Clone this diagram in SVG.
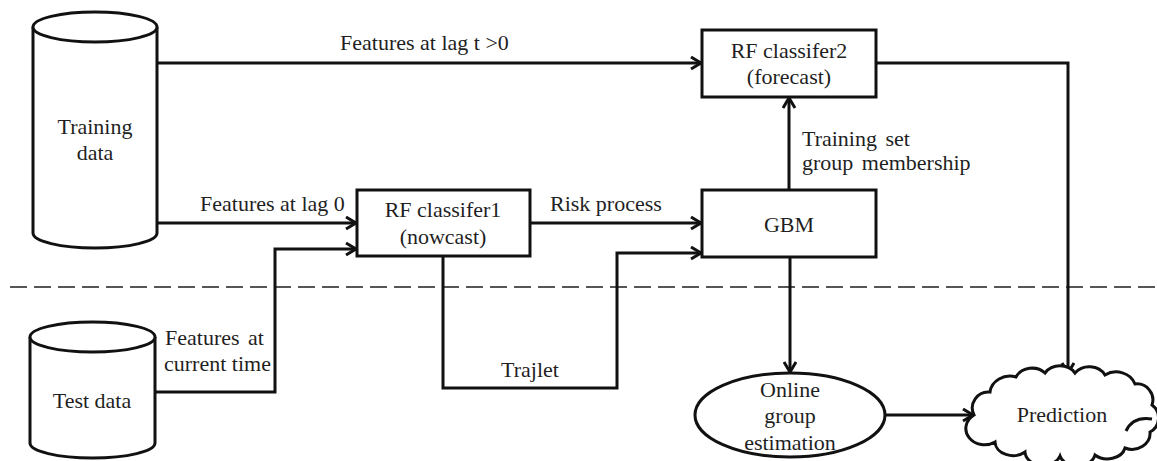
<svg xmlns="http://www.w3.org/2000/svg" width="1157" height="461" viewBox="0 0 1157 461">
  <style>
    .shape { fill: #ffffff; stroke: #111111; stroke-width: 3; }
    .line { fill: none; stroke: #111111; stroke-width: 3; }
    .arrow { marker-end: url(#chev); }
    .divider { fill: none; stroke: #555555; stroke-width: 2; stroke-dasharray: 17 7; }
    text { font-family: "Liberation Serif", "Times New Roman", serif; font-size: 22px; fill: #1f1f1f; }
    .mid { text-anchor: middle; }
    .wide { word-spacing: 3px; }
  </style>
  <defs>
    <marker id="chev" markerUnits="userSpaceOnUse" markerWidth="14" markerHeight="16" refX="11" refY="7" orient="auto">
      <path d="M1,1 L11,7 L1,13" fill="none" stroke="#111111" stroke-width="3" stroke-linejoin="miter"/>
    </marker>
  </defs>

  <rect width="1157" height="461" fill="#ffffff"/>

  <!-- training / test split -->
  <line class="divider" x1="10" y1="287" x2="1157" y2="287"/>

  <g id="connectors">
    <path class="line arrow" d="M157,63 H701"/>
    <path class="line arrow" d="M876,63 H1068 V373"/>
    <path class="line arrow" d="M789,190 V98"/>
    <path class="line arrow" d="M157,223 H356"/>
    <path class="line arrow" d="M155,392 H275 V249 H356"/>
    <path class="line arrow" d="M530,223 H701"/>
    <path class="line arrow" d="M443,256 V388 H617 V253 H701"/>
    <path class="line arrow" d="M790,257 V372"/>
    <path class="line arrow" d="M886,415 H973"/>
    <text x="340" y="50">Features at lag t &gt;0</text>
    <text x="200" y="211">Features at lag 0</text>
    <text x="550" y="211">Risk process</text>
    <text class="wide" x="802" y="146">Training set</text>
    <text class="wide" x="802" y="170">group membership</text>
    <text class="wide" x="165" y="345">Features at</text>
    <text x="164" y="371">current time</text>
    <text class="mid" x="530" y="377">Trajlet</text>
  </g>

  <g id="training-data">
    <path class="shape" d="M33,27 V233 A62,15 0 0 0 157,233 V27"/>
    <ellipse class="shape" cx="95" cy="27" rx="62" ry="15"/>
    <text class="mid" x="95" y="134">Training</text>
    <text class="mid" x="95" y="160">data</text>
  </g>

  <g id="test-data">
    <path class="shape" d="M30,337 V443 A62.5,15 0 0 0 155,443 V337"/>
    <ellipse class="shape" cx="92.5" cy="337" rx="62.5" ry="15"/>
    <text class="mid" x="92" y="408">Test data</text>
  </g>

  <g id="rf-classifier1">
    <rect class="shape" x="357" y="190" width="173" height="66"/>
    <text class="mid" x="443" y="217">RF classifer1</text>
    <text class="mid" x="443" y="244">(nowcast)</text>
  </g>

  <g id="rf-classifier2">
    <rect class="shape" x="702" y="30" width="174" height="67"/>
    <text class="mid" x="789" y="58">RF classifer2</text>
    <text class="mid" x="789" y="84">(forecast)</text>
  </g>

  <g id="gbm">
    <rect class="shape" x="702" y="190" width="174" height="67"/>
    <text class="mid" x="789" y="232">GBM</text>
  </g>

  <g id="online-group-estimation">
    <ellipse class="shape" cx="790" cy="415" rx="95" ry="42"/>
    <text class="mid" x="790" y="397">Online</text>
    <text class="mid" x="790" y="423">group</text>
    <text class="mid" x="790" y="450">estimation</text>
  </g>

  <g id="prediction">
    <path class="shape" d="M974,415
      A16,16 0 0 1 990,392
      A20,18 0 0 1 1016,377
      A18,16 0 0 1 1045,373
      A18,16 0 0 1 1075,373
      A18,16 0 0 1 1105,375
      A20,18 0 0 1 1135,384
      A16,16 0 0 1 1152,405
      A16,16 0 0 1 1150,432
      A18,16 0 0 1 1125,448
      A18,14 0 0 1 1095,455
      A18,14 0 0 1 1060,456
      A18,14 0 0 1 1025,452
      A18,14 0 0 1 995,442
      A16,14 0 0 1 974,415 Z"/>
    <path class="line" d="M1126,431 Q1133,416 1152,419"/>
    <text class="mid" x="1062" y="422">Prediction</text>
  </g>
</svg>
